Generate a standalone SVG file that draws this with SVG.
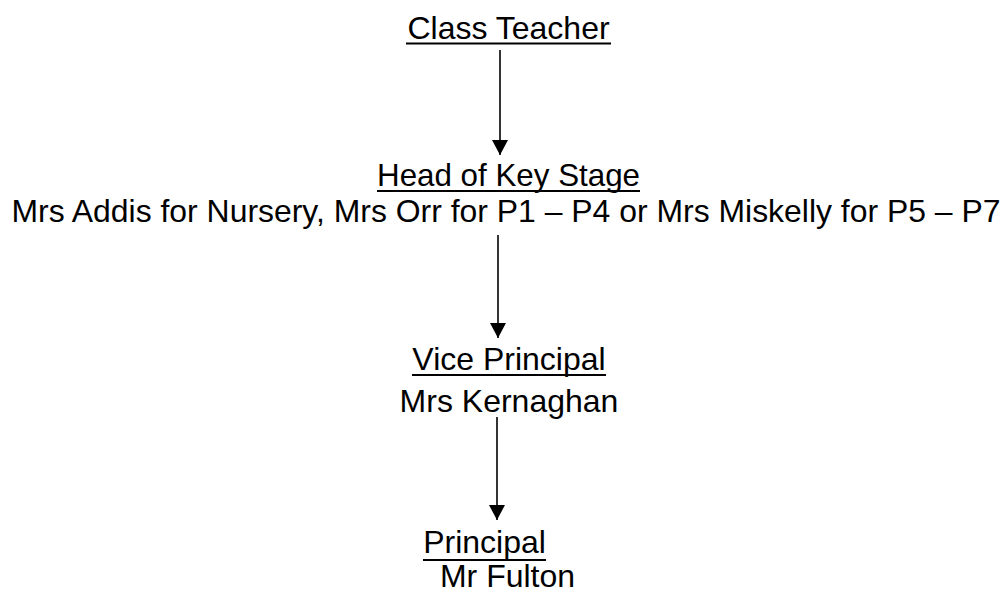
<svg xmlns="http://www.w3.org/2000/svg" width="1008" height="591" viewBox="0 0 1008 591">
<defs>
<style>
text{font-family:"Liberation Sans",Arial,sans-serif;font-size:32px;fill:#000;text-anchor:middle}
.ul{stroke:#000;stroke-width:2.2}
.conn{stroke:#000;stroke-width:1.6;fill:none}
</style>
<marker id="ah" markerUnits="userSpaceOnUse" markerWidth="18" markerHeight="16" refX="15" refY="8" orient="auto">
<path d="M0,0 L15,8 L0,16 Z" fill="#000"/>
</marker>
</defs>
<rect width="1008" height="591" fill="#fff"/>
<g id="connectors">
<line class="conn" x1="500" y1="50" x2="500" y2="155" marker-end="url(#ah)"/>
<line class="conn" x1="498" y1="235" x2="498" y2="338" marker-end="url(#ah)"/>
<line class="conn" x1="497" y1="417" x2="497" y2="520" marker-end="url(#ah)"/>
</g>
<g id="class-teacher">
<text x="508.5" y="39">Class Teacher</text>
<line class="ul" x1="406" y1="43.5" x2="611" y2="43.5"/>
</g>
<g id="head-of-key-stage">
<text x="508.5" y="186" textLength="263" lengthAdjust="spacingAndGlyphs">Head of Key Stage</text>
<line class="ul" x1="377" y1="191" x2="640" y2="191"/>
<text x="506" y="222" textLength="989" lengthAdjust="spacingAndGlyphs">Mrs Addis for Nursery, Mrs Orr for P1 – P4 or Mrs Miskelly for P5 – P7</text>
</g>
<g id="vice-principal">
<text x="509" y="370">Vice Principal</text>
<line class="ul" x1="412" y1="375" x2="606" y2="375"/>
<text x="509" y="412">Mrs Kernaghan</text>
</g>
<g id="principal">
<text x="484.5" y="553">Principal</text>
<line class="ul" x1="423" y1="560" x2="546" y2="560"/>
<text x="507.5" y="587">Mr Fulton</text>
</g>
</svg>
